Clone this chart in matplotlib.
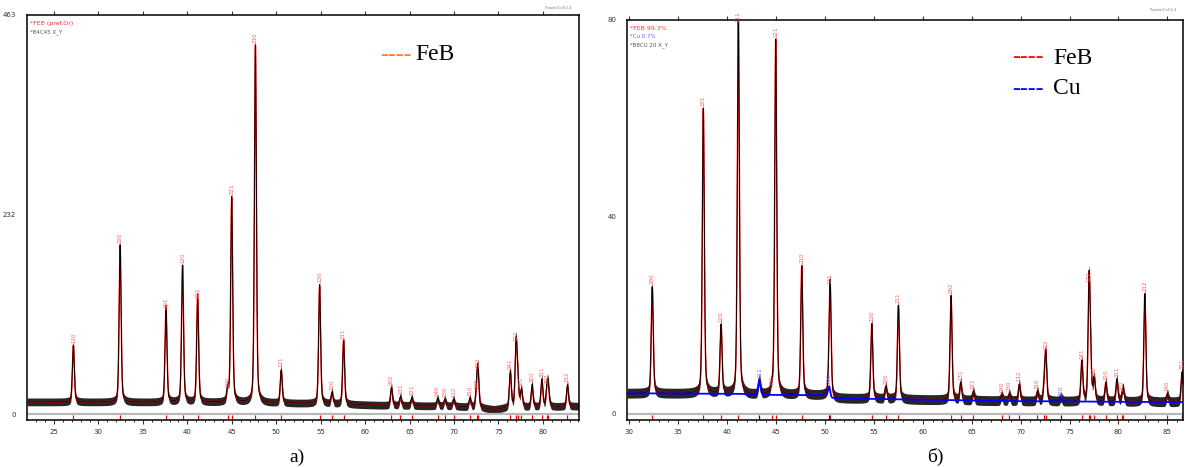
"""
XRD patterns: a) FeB (B4C 45), b) FeB + Cu (B8CU 20)
observed (black), calculated (red), Cu phase / background (blue)
"""

import numpy as np
import matplotlib.pyplot as plt

# ---- panel a: FeB, pref. orientation ----
pos_a = [27.18, 32.44, 37.60, 39.46, 41.16, 44.54, 44.99, 47.66, 50.56, 54.88,
         56.27, 57.58, 62.96, 63.97, 65.25, 68.15, 68.97, 69.95, 71.78, 72.54,
         72.69, 76.33, 76.98, 77.17, 77.58, 78.78, 79.88, 80.47, 80.62, 82.76]
obs_a = [79, 196, 120, 172, 132, 28, 252, 428, 51, 150,
         25, 84, 31, 20, 19, 18, 17, 17, 18, 26,
         50, 49, 82, 36, 28, 34, 40, 32, 26, 34]
calc_a = [80, 196, 126, 172, 139, 26, 250, 428, 50, 148,
          24, 86, 30, 18, 17, 15, 14, 15, 15, 24,
          49, 46, 80, 34, 26, 30, 38, 30, 24, 32]
hkl_a = ['110', '020', '101', '120', '111', '200', '021', '210', '121', '130',
         '220', '211', '002', '131', '221', '040', '230', '112', '310', '140',
         '022', '041', '122', None, '301', '320', '311', '202', None, '212']
bg_a_x = [22, 45, 55, 62, 70, 73, 74.5, 76, 84]
bg_a_y = [14, 13.5, 12, 10, 9, 7, 5, 7, 9]

# ---- panel b: FeB 99.3 %, Cu 0.7 % ----
pos_b = [32.35, 37.57, 39.38, 41.15, 44.56, 44.97, 47.63, 50.53, 54.79, 56.22,
         57.51, 62.89, 63.88, 65.17, 68.07, 68.85, 69.87, 71.72, 72.40, 72.57,
         76.26, 77.00, 77.14, 77.52, 78.71, 79.84, 80.41, 80.51, 82.70, 85.00,
         86.50]
obs_b = [25.8, 62, 18, 81, 5, 76, 30, 25.8, 18.3, 5.5,
         22, 24, 6.3, 4.5, 3.8, 4, 6, 4.5, 5, 12.4,
         10.6, 26.2, 9, 7, 6.3, 7, 4, 4, 24.4, 4,
         8.5]
hkl_b = ['200', '101', '120', '111', '200', '021', '210', '121', '130', '220',
         '211', '002', '131', '221', '040', '230', '112', '310', None, '022',
         '041', '122', None, '301', '320', '311', '202', None, '212', '240',
         '321']
pos_cu = [43.30, 50.43, 74.13]
amp_cu = [3.0, 2.2, 0.8]
hkl_cu = ['111', '200', '220']
bg_b_x = [30, 41.6, 42.2, 50.0, 50.7, 60, 70, 87]
bg_b_y = [4.2, 4.1, 3.9, 3.8, 3.2, 2.9, 2.6, 2.4]


def pvoigt(x, pos, amp, hw, eta=0.35):
    y = np.zeros_like(x)
    for p, a in zip(pos, amp):
        d = (x - p) / hw
        y += a * (eta / (1 + d ** 2) + (1 - eta) * np.exp(-np.log(2) * d ** 2))
    return y


fig = plt.figure(figsize=(11.85, 4.67), dpi=100)
W, H = 1185, 467

axa = fig.add_axes([27.3 / W, 1 - 420 / H, (579 - 27.3) / W, 405 / H])
axb = fig.add_axes([627.3 / W, 1 - 420 / H, (1183 - 627.3) / W, 400 / H])

# ---- a ----
xa = np.arange(22, 84.01, 0.01)
bga = np.interp(xa, bg_a_x, bg_a_y)
bga_pk = np.interp(pos_a, bg_a_x, bg_a_y)
ya_obs = bga + pvoigt(xa, pos_a, np.array(obs_a) - bga_pk, 0.13)
ya_calc = bga + pvoigt(xa, pos_a, np.array(calc_a) - bga_pk, 0.13)

axa.fill_between(xa, ya_obs - 4.5, ya_obs + 4.5, color='k', lw=0, alpha=0.85)
axa.plot(xa, ya_calc, color='red', lw=1.0)
axa.plot(xa, ya_obs, color='k', lw=0.6)
for p, h, t in zip(pos_a, obs_a, hkl_a):
    if t:
        axa.text(p, h + 3, t, rotation=90, fontsize=4, color='#ff6060',
                 ha='center', va='bottom')

# ---- b ----
xb = np.arange(29.8, 86.61, 0.01)
bgb = np.interp(xb, bg_b_x, bg_b_y)
bgb_pk = np.interp(pos_b, bg_b_x, bg_b_y)
y_cu = bgb + pvoigt(xb, pos_cu, amp_cu, 0.13)
y_feb = pvoigt(xb, pos_b, np.array(obs_b) - bgb_pk, 0.12)
yb = y_cu + y_feb

axb.fill_between(xb, yb - 1.0, yb + 1.0, color='k', lw=0, alpha=0.85)
axb.plot(xb, yb, color='red', lw=1.0)
axb.plot(xb, yb, color='k', lw=0.6)
axb.plot(xb, y_cu, color='blue', lw=1.3)
for p, h, t in zip(pos_b, obs_b, hkl_b):
    if t:
        axb.text(p, min(h, 79) + 0.6, t, rotation=90, fontsize=4,
                 color='#ff6060', ha='center', va='bottom')
for p, a, t in zip(pos_cu, amp_cu, hkl_cu):
    axb.text(p, np.interp(p, bg_b_x, bg_b_y) + a + 0.4, t, rotation=90,
             fontsize=4, color='#7070ff', ha='center', va='bottom')

# reflection markers strip below zero line, ticks, frame
for ax, pos, extra, x0, x1 in [(axa, pos_a, [], 22, 84.06),
                               (axb, pos_b, pos_cu, 29.8, 86.6)]:
    tr = ax.get_xaxis_transform()
    ax.axhline(0, color='#b8b8b8', lw=1.6, zorder=1)
    ax.vlines(pos, 0.002, 0.012, transform=tr, color='red', lw=0.9)
    if extra:
        ax.vlines(extra, 0.002, 0.012, transform=tr, color='blue', lw=0.9)
    ax.set_xticks(np.arange(25 if ax is axa else 30, 86, 5))
    ax.set_xticks(np.arange(23 if ax is axa else 30, 87, 1), minor=True)
    ax.set_xlim(x0, x1)
    ax.tick_params(axis='x', which='major', direction='out', length=3,
                   width=0.8, labelsize=5, colors='#333333', top=True)
    ax.tick_params(axis='x', which='minor', direction='out', length=1.5,
                   width=0.6, top=False)
    ax.tick_params(axis='y', length=0, labelsize=5, colors='#333333', pad=8)
    for s in ax.spines.values():
        s.set_linewidth(1.1)

axa.set_ylim(-6.96, 463)
axa.set_yticks([0, 232, 463])
axb.set_ylim(-1.22, 80)
axb.set_yticks([0, 40, 80])

# phase legends (small, inside plot)
axa.text(0.004, 0.985, '*FEB (pref.Or)', transform=axa.transAxes,
         fontsize=4.5, color='#ff3030', va='top')
axa.text(0.004, 0.965, '*B4C45 X_Y', transform=axa.transAxes,
         fontsize=4, color='#555555', va='top')
axb.text(0.004, 0.985, '*FEB 99.3%', transform=axb.transAxes,
         fontsize=4.5, color='#ff3030', va='top')
axb.text(0.004, 0.965, '*Cu 0.7%', transform=axb.transAxes,
         fontsize=4, color='#6060ff', va='top')
axb.text(0.004, 0.945, '*B8CU 20 X_Y', transform=axb.transAxes,
         fontsize=4, color='#555555', va='top')
fig.text(545 / W, 1 - 9 / H, 'PowderCell 2.4', fontsize=2.5, color='#777777')
fig.text(1150 / W, 1 - 11 / H, 'PowderCell 2.4', fontsize=2.5, color='#777777')

# big legends
serif = 'Liberation Serif'
fig.text(380 / W, 1 - 55 / H, '----', fontsize=17, family=serif,
         color='#ff7f27', va='center')
fig.text(415 / W, 1 - 55 / H, 'FeB', fontsize=17, family=serif, va='center')
fig.text(1012 / W, 1 - 58 / H, '----', fontsize=17, family=serif,
         color='red', va='center')
fig.text(1053 / W, 1 - 58 / H, 'FeB', fontsize=17, family=serif, va='center')
fig.text(1012 / W, 1 - 89 / H, '----', fontsize=17, family=serif,
         color='blue', va='center')
fig.text(1053 / W, 1 - 89 / H, 'Cu', fontsize=17, family=serif, va='center')

# captions
fig.text(297 / W, 1 - 457 / H, 'а)', fontsize=14, family=serif,
         ha='center', va='center')
fig.text(935 / W, 1 - 457 / H, 'б)', fontsize=14, family=serif,
         ha='center', va='center')

fig.savefig('out.png', dpi=100)
